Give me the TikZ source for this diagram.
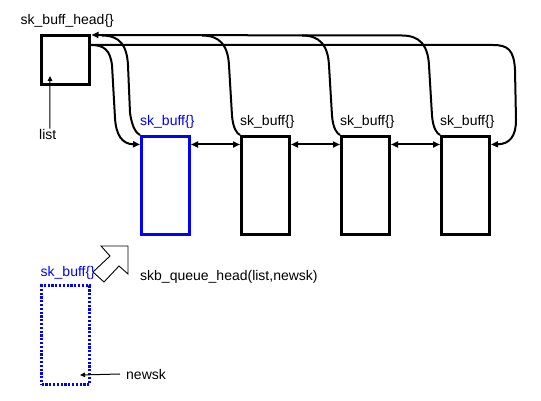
\documentclass[tikz,border=0pt]{standalone}
\usepackage{fontspec}
\setmainfont{Liberation Sans}
\usetikzlibrary{arrows.meta,calc}
\definecolor{pureblue}{RGB}{0,0,255}
\begin{document}
\begin{tikzpicture}[x=1pt,y=-1pt,
  every node/.style={font=\fontsize{14pt}{16pt}\selectfont, inner sep=0pt},
  boxnode/.style={draw, line width=3pt, minimum width=48pt, minimum height=97.5pt},
  headnode/.style={draw, line width=3pt, minimum width=48pt, minimum height=49pt},
  dotnode/.style={draw=pureblue, line width=3pt, dash pattern=on 2.2pt off 1.6pt, minimum width=48pt, minimum height=98.5pt},
  lbl/.style={anchor=base west},
  link/.style={line width=2pt},
  tip/.style={-{Triangle[length=7pt,width=6pt]}},
  dtip/.style={{Triangle[length=7pt,width=6pt]}-{Triangle[length=7pt,width=6pt]}},
  thinarrow/.style={line width=1pt,-{Triangle[length=5pt,width=4.5pt]}}]
\useasboundingbox (0,0) rectangle (541,401);

% head
\node[headnode] (head) at (65.5,60) {};
\node[lbl] (headlbl) at (20.5,25) {sk\_buff\_head\{\}};
\node[lbl] (listlbl) at (39,140) {list};
\draw[thinarrow] ($(listlbl.north)+(2,-1)$) -- ($(head.south)+(-15.5,-10)$);

% list boxes
\node[boxnode, draw=pureblue] (b1) at (165.5,185.25) {};
\node[boxnode] (b2) at (265.5,185.25) {};
\node[boxnode] (b3) at (365.5,185.25) {};
\node[boxnode] (b4) at (465.5,185.25) {};
\node[lbl, text=pureblue] (l1) at (140,126) {sk\_buff\{\}};
\node[lbl] (l2) at (240,126) {sk\_buff\{\}};
\node[lbl] (l3) at (340,126) {sk\_buff\{\}};
\node[lbl] (l4) at (440,126) {sk\_buff\{\}};

% neighbour links
\foreach \a/\b in {b1/b2,b2/b3,b3/b4}
  \draw[link,dtip] ($(\a.north east)+(0,9.5)$) -- ($(\b.north west)+(0,9.5)$);

% anchors on head
\coordinate (hin) at ($(head.north east)+(0.5,1)$);
\coordinate (hout) at ($(head.north east)+(0,11)$);

% prev pointers from boxes 2,3 to the top line
\foreach \b in {b2,b3}{
  \coordinate (c) at (\b.north west);
  \draw[link] (c) .. controls ($(c)+(-3,-1.5)$) and ($(c)+(-7,-6.5)$) .. ($(c)+(-8,-19.5)$)
     -- ($(c)+(-11,-69.5)$) .. controls ($(c)+(-12,-89.5)$) and ($(c)+(-20,-99.5)$) .. ($(c)+(-38,-99.5)$);
}
% box 1 prev
\coordinate (c1) at (b1.north west);
\draw[link] (c1) .. controls ($(c1)+(-3,-1.5)$) and ($(c1)+(-8,-6.5)$) .. ($(c1)+(-10,-22.5)$)
     -- ($(c1)+(-12,-69.5)$) .. controls ($(c1)+(-13,-89.5)$) and ($(c1)+(-20,-99.5)$) .. ($(c1)+(-38,-99.5)$);
% box 4 prev, joining top line to head
\coordinate (c4) at (b4.north west);
\draw[link,tip] (c4) .. controls ($(c4)+(-3,-1.5)$) and ($(c4)+(-7,-6.5)$) .. ($(c4)+(-8,-19.5)$)
     -- ($(c4)+(-11,-69.5)$) .. controls ($(c4)+(-12,-89.5)$) and ($(c4)+(-20,-99.5)$) .. ($(c4)+(-38,-99.5)$)
     -- (hin);

% head next -> box 1
\draw[link,tip] (hout) .. controls ($(hout)+(13,0)$) and ($(hout)+(19,5)$) .. ($(hout)+(21,20)$)
     -- ($(hout)+(24,73)$) .. controls ($(hout)+(25,90)$) and ($(hout)+(31,99)$) .. ($(b1.north west)+(0,9.5)$);

% head -> last box
\coordinate (r4) at ($(b4.north east)+(0,9.5)$);
\draw[link,tip] (hout) -- (493,45) .. controls (508,45) and (514,50) .. (515,70)
     -- (516,120) .. controls (516,136) and (510,144) .. (r4);

% new buffer
\node[dotnode] (nb) at (65.5,335) {};
\node[lbl, text=pureblue] (nblbl) at (40.5,276) {sk\_buff\{\}};
\node[lbl] (call) at (140,280) {skb\_queue\_head(list,newsk)};
\node[lbl] (newsk) at (126,379.5) {newsk};
\draw[thinarrow] ($(newsk.west)+(-6,-0.5)$) -- ($(nb.east)+(-11,40)$);

% hollow arrow
\draw[line width=0.9pt, fill=white] (101,246) -- (128,246) -- (128,274) -- (119,266)
   -- (104,282) -- (93,272) -- (110,256) -- cycle;
\end{tikzpicture}
\end{document}
